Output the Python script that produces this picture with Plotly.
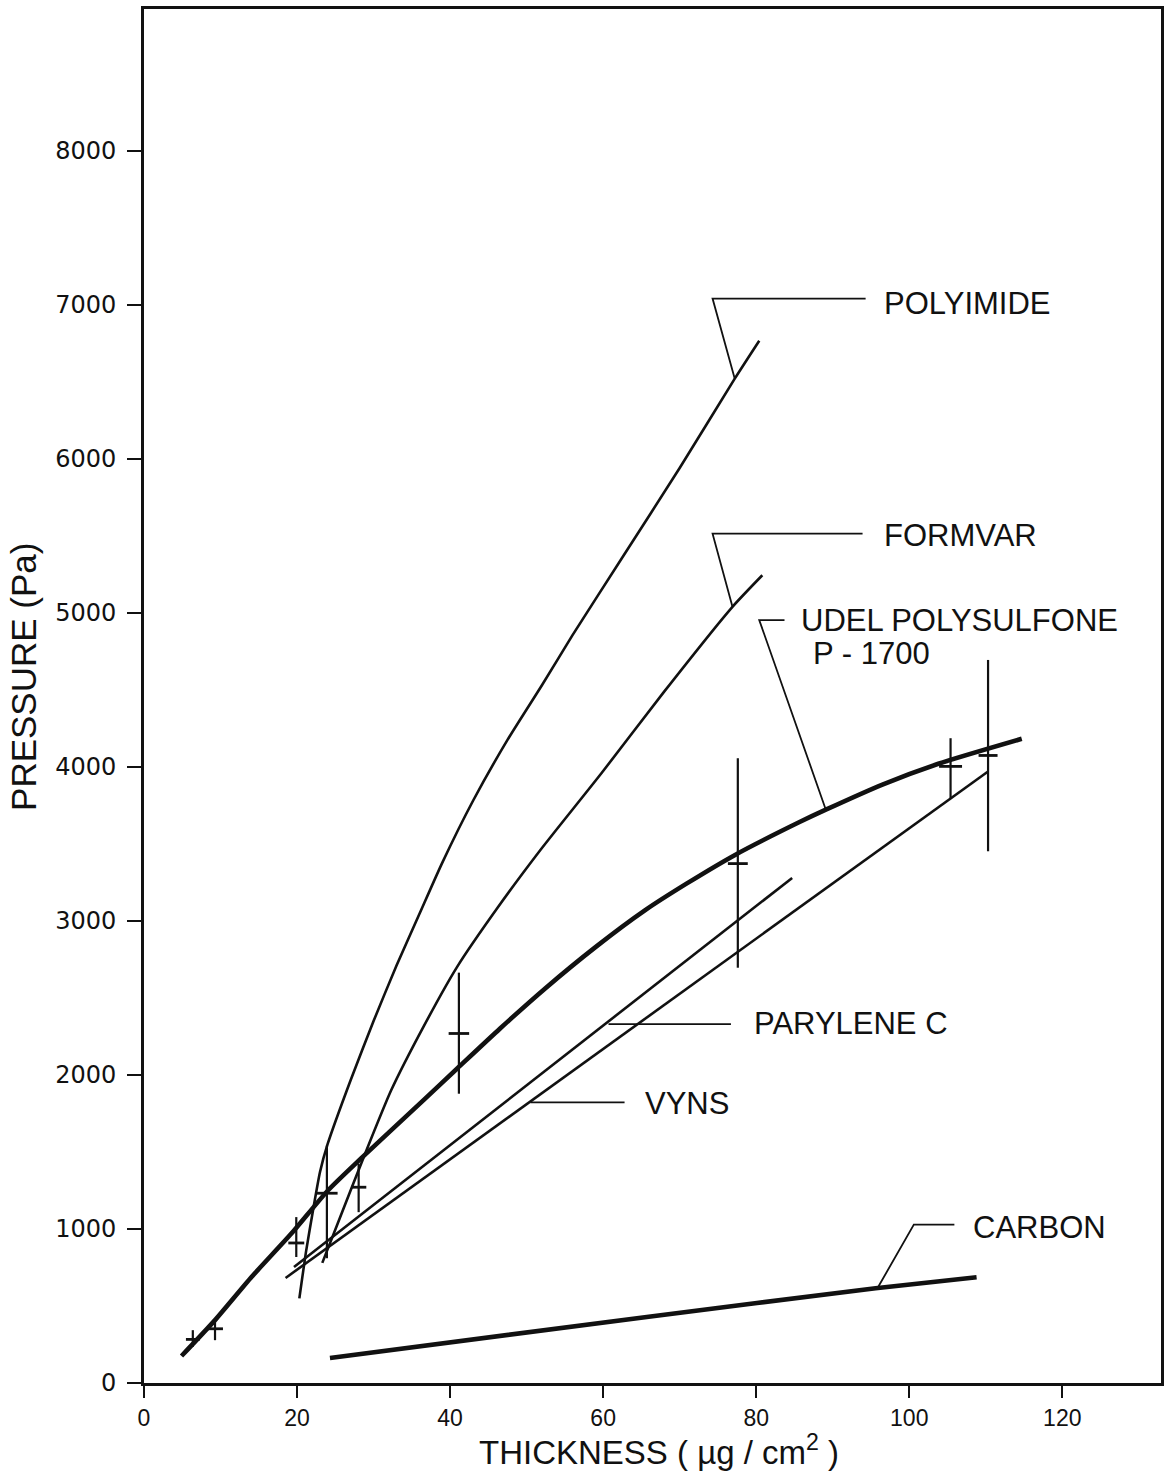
import plotly.graph_objects as go

# ---------------- data ----------------
polyimide_x = [20.3, 21.2, 22.1, 23.0, 24.0, 27.0, 30.0, 33.0, 36.0, 39.0, 43.0, 47.5, 52.0, 56.0, 62.4, 70.0, 77.2, 80.4]
polyimide_y = [549, 861, 1125, 1370, 1552, 1966, 2350, 2710, 3046, 3380, 3780, 4175, 4530, 4855, 5351, 5940, 6520, 6766]

formvar_x = [23.3, 25.3, 28.8, 32.3, 36.6, 40.9, 46.2, 51.8, 59.8, 68.0, 76.9, 80.8]
formvar_y = [780, 1034, 1477, 1900, 2320, 2700, 3085, 3460, 3960, 4490, 5039, 5244]

udel_x = [4.9, 9.28, 14.05, 19.26, 24.03, 28.4, 36.6, 41.0, 46.5, 52.5, 59.0, 65.5, 71.0, 77.3, 85.6, 89.1, 96.5, 103.8, 114.7]
udel_y = [175, 408, 688, 970, 1250, 1460, 1840, 2045, 2300, 2565, 2830, 3070, 3245, 3430, 3640, 3722, 3885, 4020, 4182]

parylene_x = [19.6, 84.7]
parylene_y = [753, 3279]

vyns_x = [18.5, 110.3]
vyns_y = [682, 3970]

carbon_x = [24.3, 65.7, 95.6, 108.8]
carbon_y = [162, 429, 615, 687]

# measured points with error crosses
pt_x = [6.38, 9.28, 19.9, 23.9, 28.05, 41.15, 77.6, 105.4, 110.3]
pt_y = [283, 352, 909, 1232, 1271, 2269, 3372, 4003, 4074]
pt_top = [343, 408, 1077, 1541, 1423, 2664, 4056, 4186, 4694]
pt_bot = [235, 278, 818, 810, 1109, 1878, 2696, 3798, 3452]
pt_xerr = [0.9, 1.04, 1.04, 1.4, 1.0, 1.34, 1.3, 1.5, 1.24]

# axes
x_ticks = [0, 20, 40, 60, 80, 100, 120]
x_tick_text = ["0", "20", "40", "60", "80", "100", "120"]
y_ticks = [0, 1000, 2000, 3000, 4000, 5000, 6000, 7000, 8000]
y_tick_text = ["0", "1000", "2000", "3000", "4000", "5000", "6000", "7000", "8000"]
x_range = [0, 132.9]
y_range = [0, 8920]

# curve labels and their leader lines
labels = ["POLYIMIDE", "FORMVAR", "UDEL POLYSULFONE", "P - 1700", "PARYLENE C", "VYNS", "CARBON"]
label_x = [96.4, 96.5, 85.6, 87.2, 79.4, 65.2, 108.1]
label_y = [7008, 5505, 4948, 4734, 2332, 1813, 1010]

leaders = {
    "POLYIMIDE": ([77.2, 74.3, 94.3], [6520, 7040, 7040]),
    "FORMVAR": ([76.9, 74.3, 93.9], [5039, 5514, 5514]),
    "UDEL": ([89.1, 80.4, 83.7], [3722, 4953, 4953]),
    "PARYLENE C": ([60.7, 76.7], [2330, 2330]),
    "VYNS": ([50.5, 62.8], [1822, 1822]),
    "CARBON": ([95.9, 100.6, 105.9], [620, 1028, 1028]),
}

# ---------------- figure ----------------
INK = "#111111"
fig = go.Figure()

thin = 2.6
thick = 4.6
for xs, ys, w, name in [
    (polyimide_x, polyimide_y, thin, "Polyimide"),
    (formvar_x, formvar_y, thin, "Formvar"),
    (parylene_x, parylene_y, thin, "Parylene C"),
    (vyns_x, vyns_y, thin, "VYNS"),
    (udel_x, udel_y, thick, "Udel polysulfone P-1700"),
    (carbon_x, carbon_y, thick, "Carbon"),
]:
    fig.add_trace(go.Scatter(x=xs, y=ys, mode="lines", name=name,
                             line=dict(color=INK, width=w, shape="spline", smoothing=0.6),
                             hoverinfo="skip"))

for key, (lx, ly) in leaders.items():
    fig.add_trace(go.Scatter(x=lx, y=ly, mode="lines",
                             line=dict(color=INK, width=1.8), hoverinfo="skip"))

fig.add_trace(go.Scatter(
    x=pt_x, y=pt_y, mode="markers",
    marker=dict(size=1, color=INK, opacity=0),
    error_y=dict(type="data", symmetric=False,
                 array=[t - c for t, c in zip(pt_top, pt_y)],
                 arrayminus=[c - b for c, b in zip(pt_y, pt_bot)],
                 color=INK, thickness=2.2, width=0),
    error_x=dict(type="data", array=pt_xerr, color=INK, thickness=2.8, width=0),
    hoverinfo="skip",
))

FONT = "Liberation Sans, Arial, sans-serif"
for t, x, y in zip(labels, label_x, label_y):
    fig.add_annotation(x=x, y=y, xref="x", yref="y", text=t, showarrow=False,
                       xanchor="left", yanchor="middle",
                       font=dict(family=FONT, size=31, color=INK))

# axis titles
fig.add_annotation(x=0.5064, y=-0.0485, xref="paper", yref="paper",
                   text="THICKNESS ( µg / cm<sup>2</sup> )", showarrow=False,
                   xanchor="center", yanchor="middle",
                   font=dict(family=FONT, size=33, color=INK))
fig.add_annotation(x=-0.1178, y=0.514, xref="paper", yref="paper",
                   text="PRESSURE (Pa)", showarrow=False, textangle=-90,
                   xanchor="center", yanchor="middle",
                   font=dict(family=FONT, size=35, color=INK))

fig.update_xaxes(range=x_range, tickvals=x_ticks, ticktext=x_tick_text,
                 showgrid=False, zeroline=False,
                 showline=True, mirror=True, linecolor=INK, linewidth=2.6,
                 ticks="outside", ticklen=12, tickwidth=2.4, tickcolor=INK,
                 ticklabelstandoff=1,
                 tickfont=dict(family=FONT, size=23, color=INK))
fig.update_yaxes(range=y_range, tickvals=y_ticks, ticktext=y_tick_text,
                 showgrid=False, zeroline=False,
                 showline=True, mirror=True, linecolor=INK, linewidth=2.6,
                 ticks="outside", ticklen=14, tickwidth=2.4, tickcolor=INK,
                 ticklabelstandoff=6,
                 tickfont=dict(family="DejaVu Sans, sans-serif", size=24, color=INK))

fig.update_layout(width=1170, height=1472,
                  margin=dict(l=144, r=7, t=6, b=89),
                  paper_bgcolor="white", plot_bgcolor="white",
                  showlegend=False)

fig.write_html("out.html")
